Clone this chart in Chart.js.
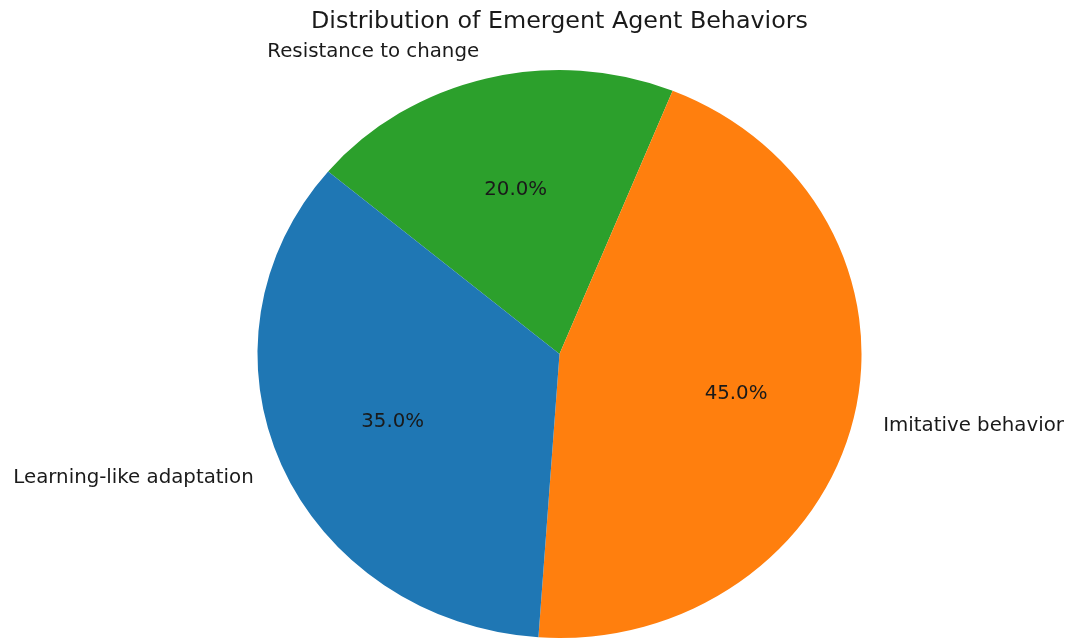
<!DOCTYPE html>
<html>
<head>
<meta charset="utf-8">
<script src="https://cdn.jsdelivr.net/npm/chart.js@4"></script>
<style>
  html, body { margin: 0; padding: 0; background: #fff; }
  #wrap { width: 1070px; height: 639px; }
</style>
</head>
<body>
<div id="wrap"><canvas id="myChart" width="1070" height="639"></canvas></div>
<script>
// drawn clockwise in Chart.js, so the order is reversed from matplotlib's
var labels = ['Resistance to change', 'Imitative behavior', 'Learning-like adaptation'];
var values = [20, 45, 35];
var colors = ['#2ca02c', '#ff7f0e', '#1f77b4'];

// pie is a bit wider than tall in the reference
var stretchX = 302 / 284;

var squash = {
  id: 'squash',
  beforeDatasetsDraw: function(chart) {
    var arc = chart.getDatasetMeta(0).data[0];
    var ctx = chart.ctx;
    ctx.save();
    ctx.translate(arc.x, arc.y);
    ctx.scale(stretchX, 1);
    ctx.translate(-arc.x, -arc.y);
  },
  afterDatasetsDraw: function(chart) {
    var ctx = chart.ctx;
    ctx.restore();

    var meta = chart.getDatasetMeta(0);
    var total = values.reduce(function(a, b) { return a + b; }, 0);
    ctx.save();
    ctx.fillStyle = '#1a1a1a';
    ctx.textBaseline = 'middle';
    meta.data.forEach(function(arc, i) {
      var mid = (arc.startAngle + arc.endAngle) / 2;
      var r = arc.outerRadius;
      var cx = Math.cos(mid), cy = Math.sin(mid);
      var nudge = 1.5;

      // percentage inside the wedge
      ctx.font = '19.8px "DejaVu Sans"';
      ctx.textAlign = 'center';
      ctx.fillText((values[i] / total * 100).toFixed(1) + '%',
        arc.x + 0.6 * r * stretchX * cx, arc.y + 0.6 * r * cy + nudge);

      // category label outside
      ctx.textAlign = cx > 0 ? 'left' : 'right';
      ctx.fillText(labels[i],
        arc.x + 1.1 * r * stretchX * cx, arc.y + 1.1 * r * cy + nudge);
    });
    ctx.restore();
  }
};

var ctx = document.getElementById('myChart').getContext('2d');

var chart = new Chart(ctx, {
  type: 'pie',
  data: {
    labels: labels,
    datasets: [{
      data: values,
      backgroundColor: colors,
      borderWidth: 0,
      hoverOffset: 0
    }]
  },
  options: {
    responsive: false,
    animation: false,
    rotation: -50,
    layout: { padding: { left: 49, right: 0, top: 0, bottom: 1 } },
    plugins: {
      legend: { display: false },
      tooltip: { enabled: false },
      title: {
        display: true,
        text: 'Distribution of Emergent Agent Behaviors',
        color: '#1a1a1a',
        font: { family: 'DejaVu Sans', size: 23.8, weight: 'normal' },
        padding: { top: 7.7, bottom: 33.7 }
      }
    }
  },
  plugins: [squash]
});
</script>
</body>
</html>
